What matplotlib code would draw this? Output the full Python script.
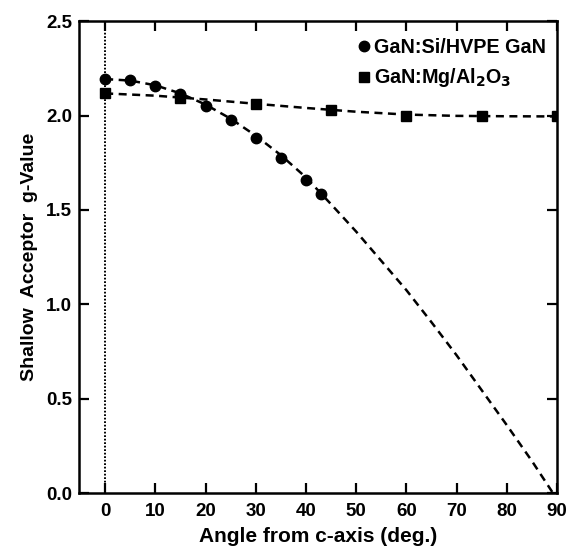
import numpy as np
import matplotlib
matplotlib.use("Agg")
import matplotlib.pyplot as plt

plt.rcParams['font.family'] = ['Liberation Sans', 'DejaVu Sans']
plt.rcParams['font.weight'] = 'bold'
plt.rcParams['mathtext.default'] = 'bf'

# GaN:Si/HVPE GaN (circles)
si_angle = [0, 5, 10, 15, 20, 25, 30, 35, 40, 43]
si_g = [2.193, 2.187, 2.157, 2.112, 2.052, 1.977, 1.881, 1.774, 1.658, 1.585]

# GaN:Mg/Al2O3 (squares)
mg_angle = [0, 15, 30, 45, 60, 75, 90]
mg_g = [2.117, 2.095, 2.06, 2.03, 2.0, 1.998, 1.997]

# dashed fit curves
si_fit_angle = [0, 5, 10, 15, 20, 25, 30, 35, 40, 45, 50, 55, 60, 65, 70, 75, 80, 85, 89.2]
si_fit_g = [2.193, 2.185, 2.16, 2.117, 2.058, 1.983, 1.893, 1.79, 1.672, 1.53,
            1.385, 1.23, 1.075, 0.905, 0.73, 0.545, 0.36, 0.17, 0.0]
mg_fit_angle = [0, 10, 20, 30, 40, 50, 60, 70, 80, 90]
mg_fit_g = [2.117, 2.105, 2.085, 2.062, 2.04, 2.02, 2.005, 1.998, 1.996, 1.995]

fig = plt.figure(figsize=(5.73, 5.5), dpi=100)
ax = fig.add_axes([0.138, 0.1036, 0.834, 0.858])

ax.axvline(0, color='black', linestyle=(0, (0.9, 0.9)), linewidth=1.4)

ax.plot(si_fit_angle, si_fit_g, color='black', linestyle=(0, (3.2, 2.2)), linewidth=1.8)
ax.plot(mg_fit_angle, mg_fit_g, color='black', linestyle=(0, (3.2, 2.2)), linewidth=1.8)

ax.plot(si_angle, si_g, 'o', color='black', markersize=7.5, label='GaN:Si/HVPE GaN')
ax.plot(mg_angle, mg_g, 's', color='black', markersize=6.5, label='GaN:Mg/Al$_2$O$_3$')

ax.set_xlim(-5.2, 89.8)
ax.set_ylim(0, 2.5)
ax.set_xticks(np.arange(0, 91, 10))
ax.set_yticks([0.0, 0.5, 1.0, 1.5, 2.0, 2.5])
ax.set_yticklabels(['0.0', '0.5', '1.0', '1.5', '2.0', '2.5'])

ax.tick_params(direction='in', length=7, width=1.6, top=True, right=True,
               labelsize=13.5)
ax.tick_params(axis='x', pad=7)
ax.tick_params(axis='y', pad=5)
for lab in ax.get_xticklabels() + ax.get_yticklabels():
    lab.set_fontweight('bold')
for sp in ax.spines.values():
    sp.set_linewidth(1.8)

ax.set_xlabel('Angle from c-axis (deg.)', fontsize=15, fontweight='bold', labelpad=5)
ax.set_ylabel('Shallow  Acceptor  g-Value', fontsize=14, fontweight='bold', labelpad=6)

leg = ax.legend(loc='upper right', bbox_to_anchor=(0.978, 0.965), frameon=False,
                fontsize=14.2, handlelength=0.5, handletextpad=0.3,
                labelspacing=0.5, borderaxespad=0.0, borderpad=0.0)
for t in leg.get_texts():
    t.set_fontweight('bold')

fig.savefig('out.png', dpi=100)
